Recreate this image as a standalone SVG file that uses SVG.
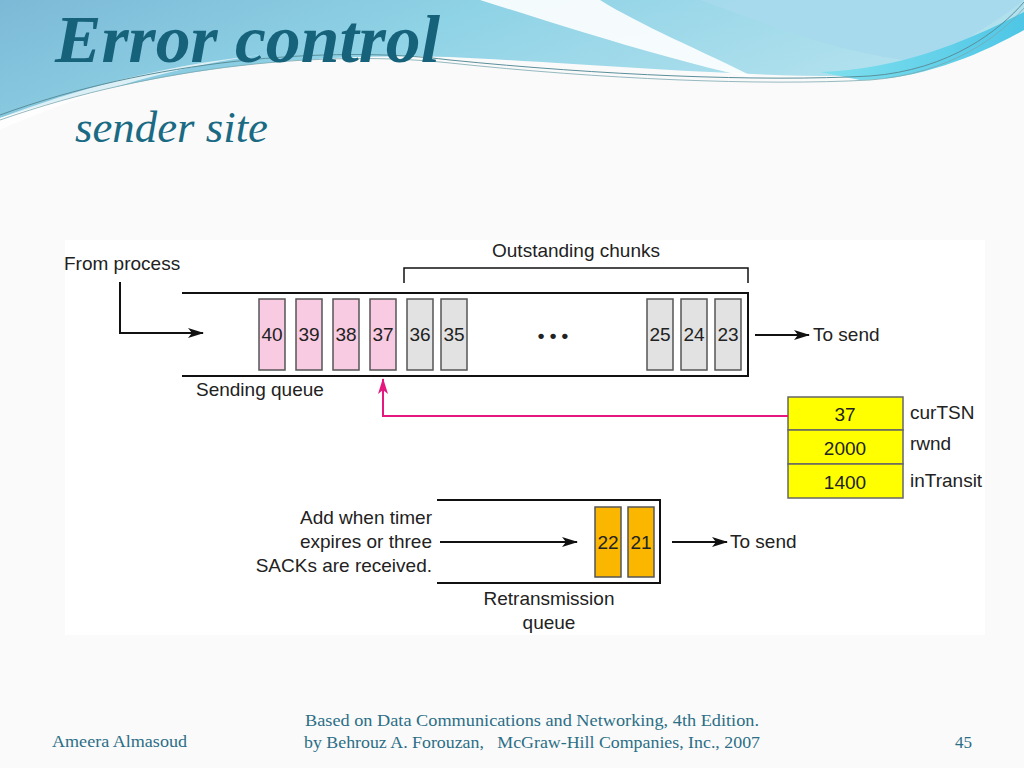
<svg xmlns="http://www.w3.org/2000/svg" width="1024" height="768" viewBox="0 0 1024 768">
<defs>
<linearGradient id="gBlue" x1="0" y1="0" x2="1" y2="0.3">
<stop offset="0" stop-color="#7cb9d6"/>
<stop offset="0.45" stop-color="#8fd3e6"/>
<stop offset="1" stop-color="#b5e2ee"/>
</linearGradient>
<linearGradient id="gCyan" x1="0" y1="0" x2="1" y2="0">
<stop offset="0" stop-color="#7fe0ee"/>
<stop offset="1" stop-color="#4fc6e6"/>
</linearGradient>
<marker id="ah" markerWidth="16" markerHeight="10" refX="15" refY="5" orient="auto" markerUnits="userSpaceOnUse">
<path d="M0,0 L16,5 L0,10 L4,5 Z" fill="#111"/>
</marker>
<marker id="ahp" markerWidth="16" markerHeight="10" refX="15" refY="5" orient="auto" markerUnits="userSpaceOnUse">
<path d="M0,0 L16,5 L0,10 L4,5 Z" fill="#e5187f"/>
</marker>
<style>
.t{font-family:"Liberation Sans",Arial,sans-serif;font-size:19px;fill:#222}
.n{font-family:"Liberation Sans",Arial,sans-serif;font-size:19px;fill:#222;text-anchor:middle}
.pk{fill:#f9cbe2;stroke:#555;stroke-width:1.5}
.gy{fill:#e2e2e2;stroke:#555;stroke-width:1.5}
.or{fill:#fbb700;stroke:#555;stroke-width:1.5}
.ye{fill:#ffff00;stroke:#666;stroke-width:1.5}
.ln{stroke:#111;stroke-width:2;fill:none}
.ft{font-family:"Liberation Serif","Times New Roman",serif;font-size:17px;fill:#2b6e86}
</style>
</defs>
<rect width="1024" height="768" fill="#fafafa"/>
<g id="background">
<path d="M0,0 H1024 V18 C960,55 900,75 840,76 C720,76 560,62 450,57 C300,52 150,70 0,118 Z" fill="url(#gBlue)"/>
<path d="M0,118 C80,88 160,66 260,55 C160,70 80,95 0,130 Z" fill="#ffffff" opacity="0.7"/>
<path d="M480,0 C560,25 650,55 760,80 C700,50 640,25 600,0 Z" fill="#ffffff" opacity="0.9"/>
<path d="M700,0 C780,30 850,55 920,62 C960,45 1000,20 1024,0 Z" fill="#a6d9ec" opacity="0.9"/>
<path d="M820,72 C900,70 970,40 1024,12 V30 C980,55 920,80 860,80 Z" fill="url(#gCyan)"/>
<path d="M0,115 C150,60 330,45 450,60 C600,75 760,82 870,76 C950,70 1000,30 1024,2" fill="none" stroke="#5a8f9a" stroke-width="1"/>
<path d="M0,120 C160,64 330,50 450,63 C600,79 760,86 870,80 C950,74 1000,36 1024,8" fill="none" stroke="#7aa8b0" stroke-width="0.8"/>
</g>
<g id="title">
<text x="55" y="62" font-family="Liberation Serif,'Times New Roman',serif" font-size="67" font-weight="bold" font-style="italic" fill="#17627b" textLength="385" lengthAdjust="spacingAndGlyphs">Error control</text>
<text x="75" y="142" font-family="Liberation Serif,'Times New Roman',serif" font-size="44" font-style="italic" fill="#1a6a84" textLength="193" lengthAdjust="spacingAndGlyphs">sender site</text>
</g>
<rect id="diagram-bg" x="65" y="240" width="920" height="395" fill="#ffffff"/>
<g id="sending-queue">
<path class="ln" d="M182,293 H748 V376 H182"/>
<text class="t" x="196" y="396">Sending queue</text>
</g>
<g id="chunk-40"><rect class="pk" x="259" y="299" width="26" height="71"/><text class="n" x="272" y="341">40</text></g>
<g id="chunk-39"><rect class="pk" x="296" y="299" width="26" height="71"/><text class="n" x="309" y="341">39</text></g>
<g id="chunk-38"><rect class="pk" x="333" y="299" width="26" height="71"/><text class="n" x="346" y="341">38</text></g>
<g id="chunk-37"><rect class="pk" x="370" y="299" width="26" height="71"/><text class="n" x="383" y="341">37</text></g>
<g id="chunk-36"><rect class="gy" x="407" y="299" width="26" height="71"/><text class="n" x="420" y="341">36</text></g>
<g id="chunk-35"><rect class="gy" x="441" y="299" width="26" height="71"/><text class="n" x="454" y="341">35</text></g>
<g id="dots"><text class="n" x="553" y="342" font-size="22" font-weight="bold">• • •</text></g>
<g id="chunk-25"><rect class="gy" x="647" y="299" width="26" height="71"/><text class="n" x="660" y="341">25</text></g>
<g id="chunk-24"><rect class="gy" x="681" y="299" width="26" height="71"/><text class="n" x="694" y="341">24</text></g>
<g id="chunk-23"><rect class="gy" x="715" y="299" width="26" height="71"/><text class="n" x="728" y="341">23</text></g>
<g id="outstanding">
<path d="M404,283 V268 H748 V283" fill="none" stroke="#111" stroke-width="1.5"/>
<text class="n" x="576" y="257">Outstanding chunks</text>
</g>
<g id="labels">
<text class="t" x="64" y="270">From process</text>
<text class="t" x="813" y="341">To send</text>
<text class="t" x="730" y="548">To send</text>
<text class="t" x="432" y="524" text-anchor="end">Add when timer</text>
<text class="t" x="432" y="548" text-anchor="end">expires or three</text>
<text class="t" x="432" y="572" text-anchor="end">SACKs are received.</text>
<text class="n" x="549" y="605">Retransmission</text>
<text class="n" x="549" y="629">queue</text>
</g>
<g id="variables">
<rect class="ye" x="788" y="397" width="115" height="33"/>
<rect class="ye" x="788" y="430" width="115" height="34"/>
<rect class="ye" x="788" y="464" width="115" height="34"/>
<text class="n" x="845" y="421">37</text>
<text class="n" x="845" y="455">2000</text>
<text class="n" x="845" y="489">1400</text>
<text class="t" x="910" y="419">curTSN</text>
<text class="t" x="910" y="450">rwnd</text>
<text class="t" x="910" y="487">inTransit</text>
</g>
<g id="retransmission-queue">
<path class="ln" d="M437,500 H660 V583 H437"/>
</g>
<g id="chunk-22"><rect class="or" x="595" y="507" width="26" height="70"/><text class="n" x="608" y="549">22</text></g>
<g id="chunk-21"><rect class="or" x="628" y="507" width="26" height="70"/><text class="n" x="641" y="549">21</text></g>
<g id="connectors">
<path d="M120,282 V333 H203" fill="none" stroke="#111" stroke-width="2" marker-end="url(#ah)"/>
<path d="M755,335 H809" fill="none" stroke="#111" stroke-width="2" marker-end="url(#ah)"/>
<path d="M788,416 H383 V379" fill="none" stroke="#e5187f" stroke-width="2" marker-end="url(#ahp)"/>
<path d="M440,542 H577" fill="none" stroke="#111" stroke-width="2" marker-end="url(#ah)"/>
<path d="M672,542 H727" fill="none" stroke="#111" stroke-width="2" marker-end="url(#ah)"/>
</g>
<g id="footer">
<text class="ft" x="52" y="747" textLength="135" lengthAdjust="spacingAndGlyphs">Ameera Almasoud</text>
<text class="ft" x="305" y="726" textLength="454" lengthAdjust="spacingAndGlyphs">Based on Data Communications and Networking, 4th Edition.</text>
<text class="ft" x="304" y="748" xml:space="preserve" textLength="456" lengthAdjust="spacingAndGlyphs">by Behrouz A. Forouzan,   McGraw-Hill Companies, Inc., 2007</text>
<text class="ft" x="972" y="748" text-anchor="end">45</text>
</g>
</svg>
